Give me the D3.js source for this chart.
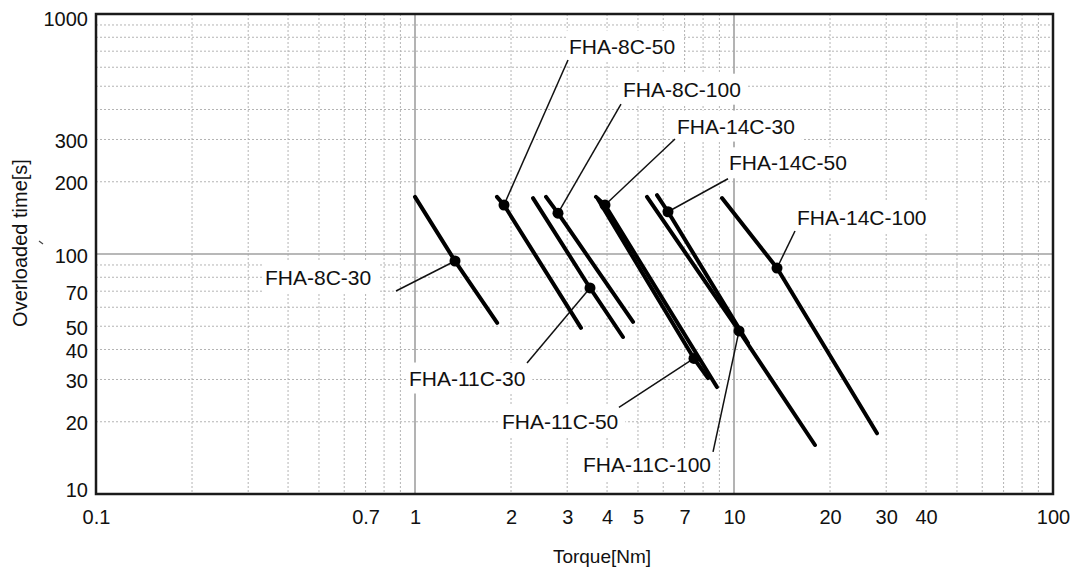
<!DOCTYPE html>
<html><head><meta charset="utf-8">
<script src="https://cdn.jsdelivr.net/npm/d3@7"></script>
<style>
body{margin:0;background:#fff}
svg{display:block}
text{font-family:"Liberation Sans",Arial,Helvetica,sans-serif;fill:#111}
</style>
</head><body>
<svg id="chart" width="1083" height="572"></svg>
<script>
// ---------- data ----------
const xTickValues = [0.1, 0.7, 1, 2, 3, 4, 5, 7, 10, 20, 30, 40, 100];
const yTickValues = [10, 20, 30, 40, 50, 70, 100, 200, 300, 1000];
const xMinorGrid = [0.2,0.3,0.4,0.5,0.6,0.7,0.8,0.9,2,3,4,5,6,7,8,9,20,30,40,50,60,70,80,90];
const xMajorGrid = [1, 10];
const yMinorGrid = [20,30,40,50,60,70,80,90,200,300,400,500,600,700,800,900];
const yMajorGrid = [100];

const seriesNames = ["FHA-8C-30","FHA-8C-50","FHA-8C-100","FHA-11C-30","FHA-11C-50","FHA-11C-100","FHA-14C-30","FHA-14C-50","FHA-14C-100"];
// [torque Nm, overloaded time s]
const curve8C30   = [[1.00,173],[1.335,93.5],[1.81,51.6]];
const curve8C50   = [[1.807,173],[1.901,160],[3.314,49.2]];
const curve8C100  = [[2.575,173],[2.807,148],[4.826,52.1]];
const curve11C30  = [[2.344,171],[3.537,72.2],[4.487,45.1]];
const curve11C50  = [[3.747,169],[7.49,36.7],[8.29,30.4]];
const curve11C100 = [[5.337,173],[10.37,47.8],[17.94,16.0]];
const curve14C30  = [[3.693,173],[3.941,160],[8.84,27.9]];
const curve14C50  = [[5.736,176],[6.21,150],[11.06,42.6]];
const curve14C100 = [[9.17,171],[13.64,87.4],[28.07,17.9]];
const curves = [curve8C30,curve8C50,curve8C100,curve11C30,curve11C50,curve11C100,curve14C30,curve14C50,curve14C100];

const markerTorque = [1.335, 1.901, 2.807, 3.537, 7.49, 10.37, 3.941, 6.21, 13.64];
const markerTime   = [93.5, 160, 148, 72.2, 36.7, 47.8, 160, 150, 87.4];

// ---------- layout (pixel offsets of leader start / label text from marker) ----------
const labelLayout = [
  {ld:[-59,30],  tx:[-190,16]},
  {ld:[64,-145], tx:[65,-159]},
  {ld:[63,-109], tx:[65,-124]},
  {ld:[-63,75],  tx:[-181,90]},
  {ld:[-75,49],  tx:[-192,63]},
  {ld:[-26,121], tx:[-156,134]},
  {ld:[70,-66],  tx:[72,-79]},
  {ld:[60,-33],  tx:[61,-49]},
  {ld:[18,-37],  tx:[20,-51]}
];

const W = 1083, H = 572;
const m = {l:96, r:30, t:14, b:78};
const svg = d3.select("#chart");
const x = d3.scaleLog().domain([0.1, 100]).range([m.l, W - m.r]);
const y = d3.scaleLog().domain([10, 1000]).range([H - m.b, m.t]);

// grid
const g = svg.append("g");
g.selectAll(".vx").data(xMinorGrid).join("line")
  .attr("x1", d => x(d)).attr("x2", d => x(d)).attr("y1", m.t).attr("y2", H - m.b)
  .attr("stroke", "#b4b4b4").attr("stroke-width", 1).attr("stroke-dasharray", "2,2");
g.selectAll(".hy").data(yMinorGrid).join("line")
  .attr("y1", d => y(d)).attr("y2", d => y(d)).attr("x1", m.l).attr("x2", W - m.r)
  .attr("stroke", "#b4b4b4").attr("stroke-width", 1).attr("stroke-dasharray", "2,2");
g.selectAll(".vmx").data(xMajorGrid).join("line")
  .attr("x1", d => x(d)).attr("x2", d => x(d)).attr("y1", m.t).attr("y2", H - m.b)
  .attr("stroke", "#a0a0a0").attr("stroke-width", 1.6);
g.selectAll(".hmy").data(yMajorGrid).join("line")
  .attr("y1", d => y(d)).attr("y2", d => y(d)).attr("x1", m.l).attr("x2", W - m.r)
  .attr("stroke", "#a0a0a0").attr("stroke-width", 1.6);

// axes (labels only)
const xAxis = d3.axisBottom(x).tickValues(xTickValues).tickSize(0).tickPadding(16)
  .tickFormat(d => String(d));
const xa = svg.append("g").attr("transform", `translate(0,${H - m.b})`).call(xAxis);
xa.select(".domain").remove();
xa.selectAll("text").style("font-size", "20px").attr("fill", "#111")
  .style("font-family", '"Liberation Sans",Arial,sans-serif');

const yAxis = d3.axisLeft(y).tickValues(yTickValues).tickSize(0).tickPadding(8)
  .tickFormat(d => String(d));
const ya = svg.append("g").attr("transform", `translate(${m.l},0)`).call(yAxis);
ya.select(".domain").remove();
ya.selectAll("text").style("font-size", "20px").attr("fill", "#111")
  .style("font-family", '"Liberation Sans",Arial,sans-serif')
  .attr("dy", d => d === 1000 ? "0.55em" : d === 10 ? "0.1em" : "0.4em");

// axis titles
svg.append("text").attr("x", 602).attr("y", 563).attr("text-anchor", "middle")
  .style("font-size", "19px").text("Torque[Nm]");
svg.append("text").attr("transform", "translate(27,243) rotate(-90)").attr("text-anchor", "middle")
  .style("font-size", "20px").text("Overloaded time[s]");
svg.append("line").attr("x1", 39).attr("y1", 241).attr("x2", 43).attr("y2", 244)
  .attr("stroke", "#444").attr("stroke-width", 1.2);

// labels with white boxes + leader lines
const lblG = svg.append("g");
const leadG = svg.append("g");
seriesNames.forEach((name, i) => {
  const px = x(markerTorque[i]), py = y(markerTime[i]);
  const L = labelLayout[i];
  const t = lblG.append("text").attr("x", px + L.tx[0]).attr("y", py + L.tx[1])
    .attr("dy", "0.36em").style("font-size", "21px").text(name);
  const bb = t.node().getBBox();
  lblG.insert("rect", "text").attr("x", bb.x - 3).attr("y", bb.y - 4)
    .attr("width", bb.width + 10).attr("height", bb.height + 8).attr("fill", "#fff");
  leadG.append("line").attr("x1", px + L.ld[0]).attr("y1", py + L.ld[1])
    .attr("x2", px).attr("y2", py).attr("stroke", "#111").attr("stroke-width", 1.5);
});

// curves
const line = d3.line().x(d => x(d[0])).y(d => y(d[1])).curve(d3.curveLinear);
svg.append("g").selectAll("path").data(curves).join("path")
  .attr("d", line).attr("fill", "none").attr("stroke", "#000")
  .attr("stroke-width", 4).attr("stroke-linecap", "round").attr("stroke-linejoin", "round");

// markers
svg.append("g").selectAll("circle").data(markerTorque).join("circle")
  .attr("cx", d => x(d)).attr("cy", (d, i) => y(markerTime[i])).attr("r", 5.5).attr("fill", "#000");

// frame
svg.append("rect").attr("x", m.l).attr("y", m.t).attr("width", W - m.l - m.r).attr("height", H - m.t - m.b)
  .attr("fill", "none").attr("stroke", "#1a1a1a").attr("stroke-width", 2.5);
</script>
</body></html>
